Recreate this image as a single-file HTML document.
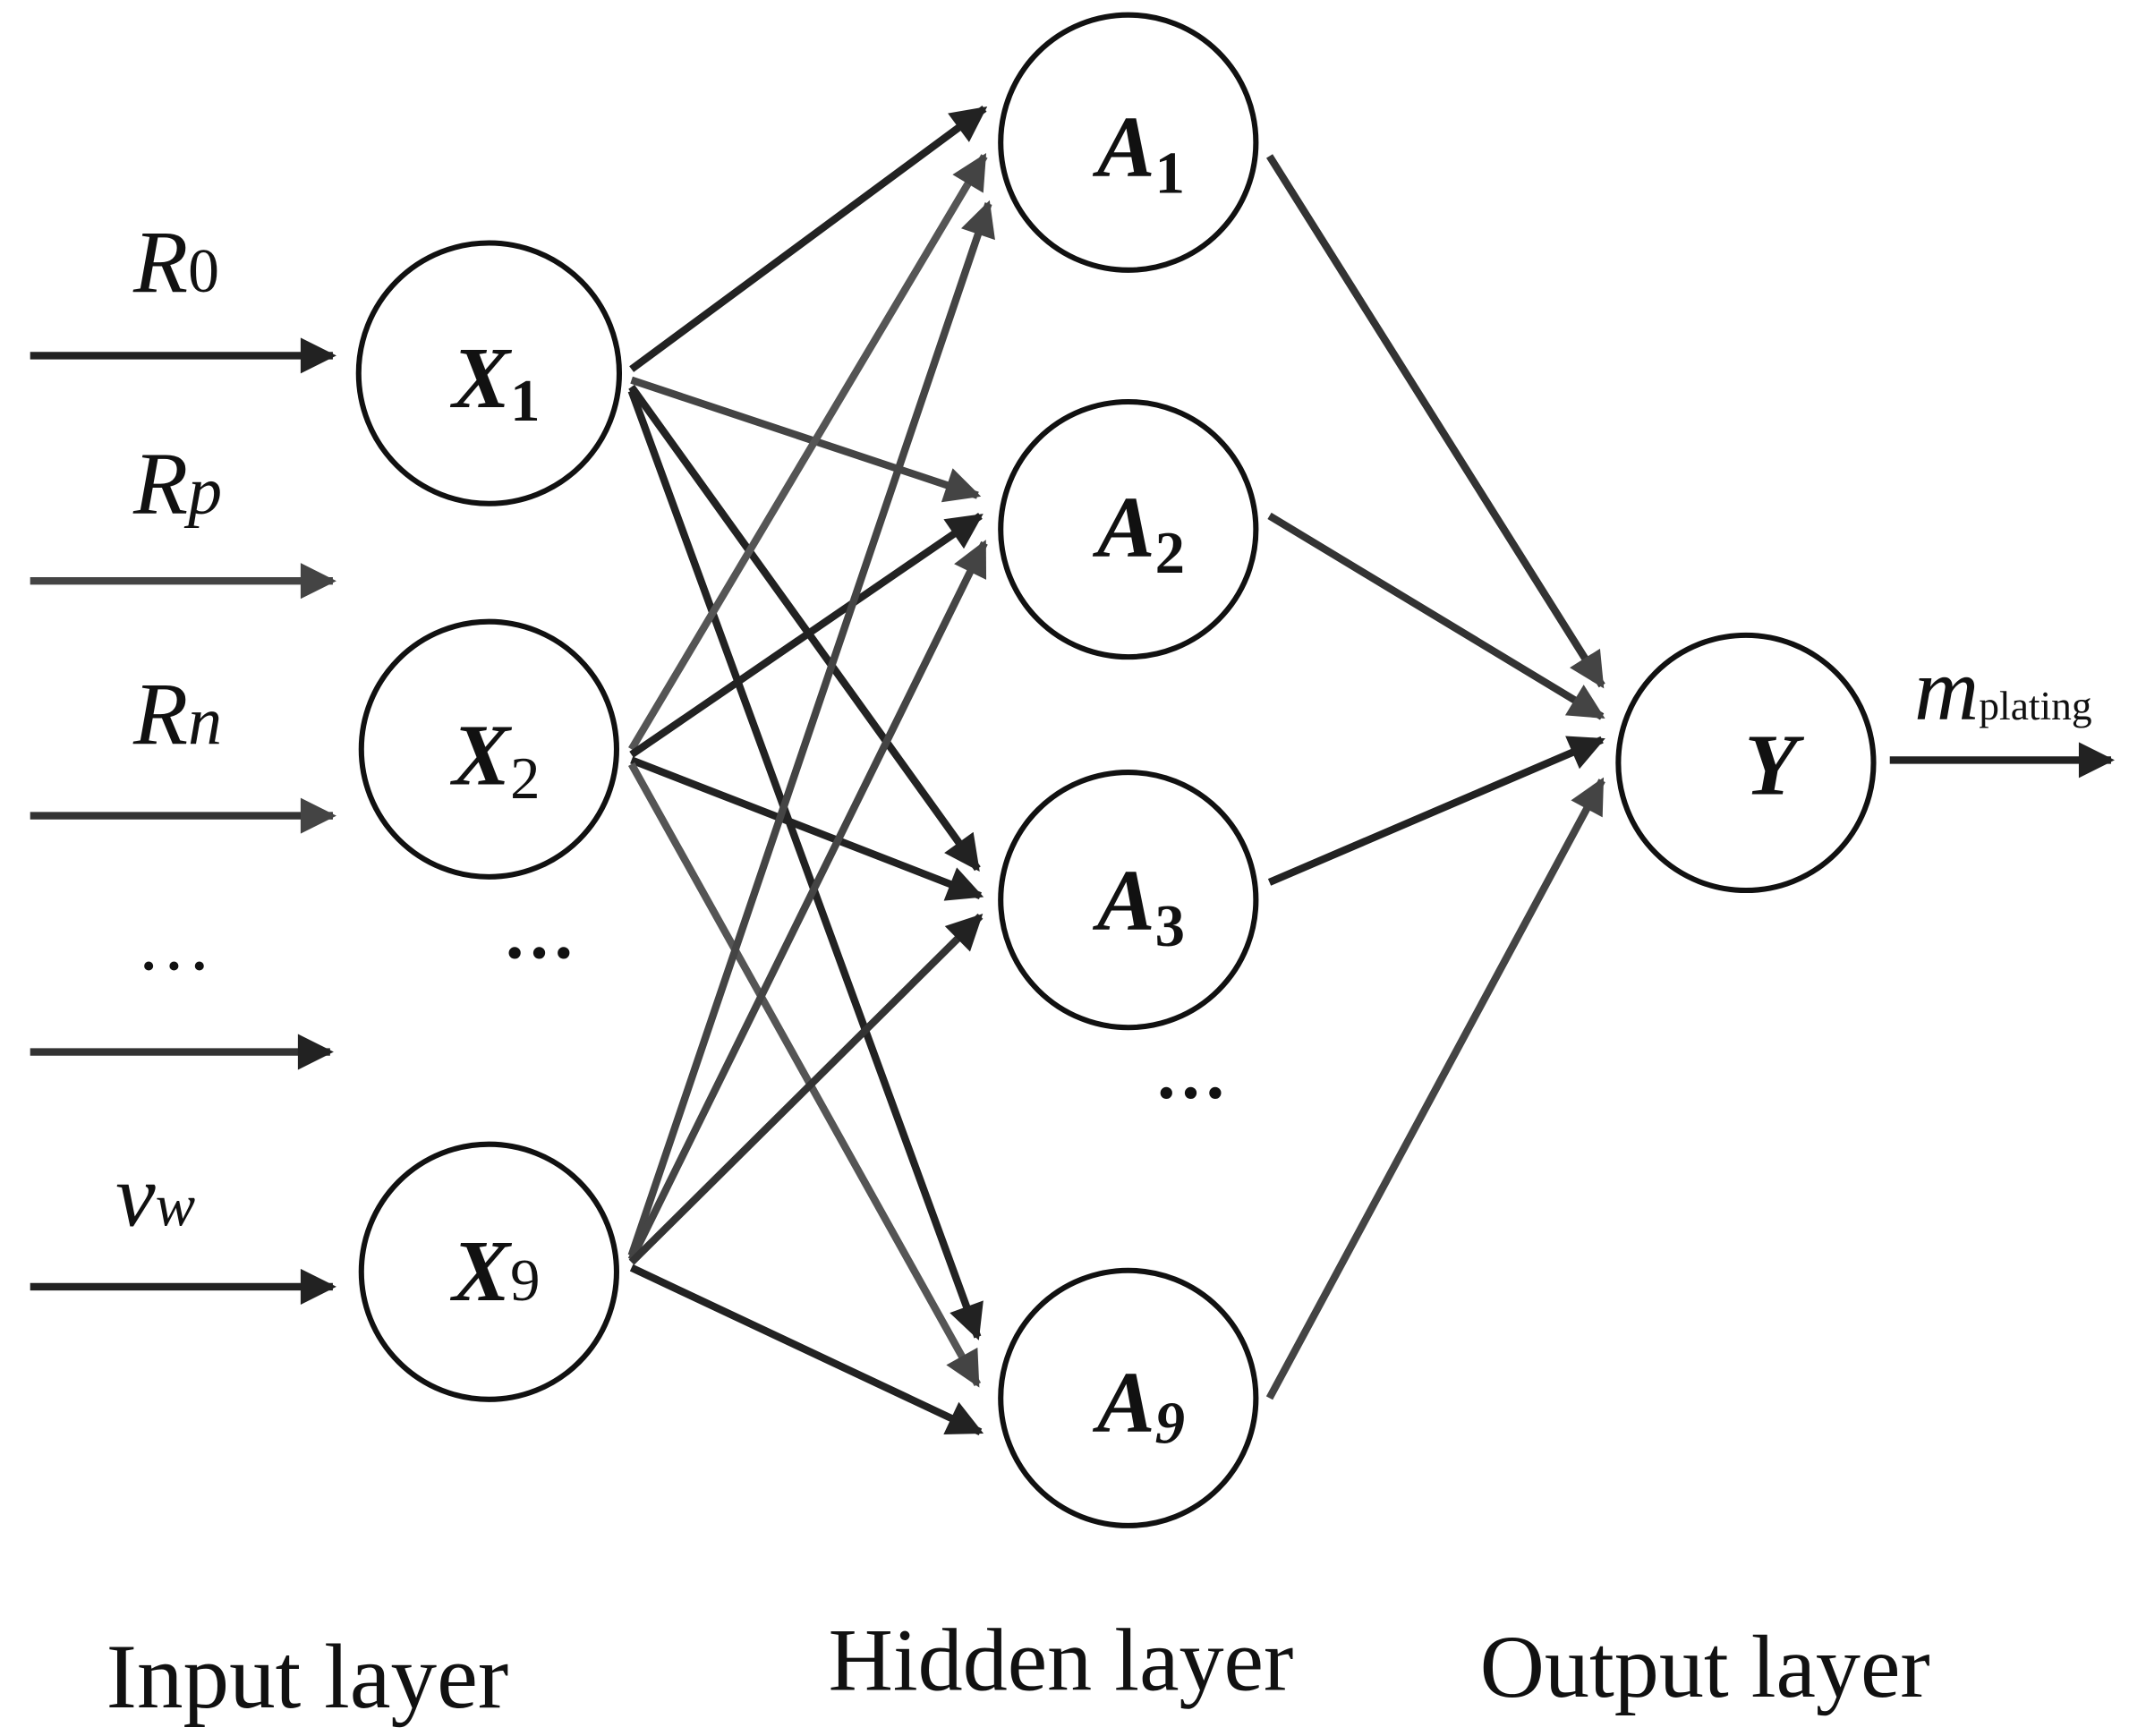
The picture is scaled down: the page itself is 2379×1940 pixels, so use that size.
<!DOCTYPE html>
<html><head><meta charset="utf-8"><style>
html,body{margin:0;padding:0;background:#fff;}
svg{display:block;}
text{font-family:"Liberation Serif",serif;fill:#111;}
</style></head><body>
<svg width="2379" height="1940" viewBox="0 0 1568 1279" xmlns="http://www.w3.org/2000/svg">
<defs>
<marker id="ah" viewBox="0 0 10 10" refX="9" refY="5" markerWidth="5.5" markerHeight="4.8" orient="auto" markerUnits="strokeWidth">
<path d="M0,0 L10,5 L0,10 z" fill="#222"/>
</marker>
<marker id="ah2" viewBox="0 0 10 10" refX="9" refY="5" markerWidth="5.5" markerHeight="4.8" orient="auto" markerUnits="strokeWidth">
<path d="M0,0 L10,5 L0,10 z" fill="#444"/>
</marker>
</defs>
<g stroke-width="5.5" fill="none">
<line x1="22" y1="262" x2="245" y2="262" stroke="#222" marker-end="url(#ah)"/>
<line x1="22" y1="428" x2="245" y2="428" stroke="#444" marker-end="url(#ah2)"/>
<line x1="22" y1="601" x2="245" y2="601" stroke="#333" marker-end="url(#ah2)"/>
<line x1="22" y1="775" x2="243" y2="775" stroke="#333" marker-end="url(#ah)"/>
<line x1="22" y1="948" x2="245" y2="948" stroke="#222" marker-end="url(#ah)"/>
<line x1="465" y1="272" x2="725" y2="80" stroke="#222" marker-end="url(#ah)"/>
<line x1="465" y1="280" x2="720" y2="365" stroke="#444" marker-end="url(#ah2)"/>
<line x1="465" y1="285" x2="720" y2="640" stroke="#222" marker-end="url(#ah)"/>
<line x1="465" y1="288" x2="720" y2="985" stroke="#222" marker-end="url(#ah)"/>
<line x1="465" y1="552" x2="725" y2="115" stroke="#555" marker-end="url(#ah2)"/>
<line x1="465" y1="556" x2="722" y2="380" stroke="#222" marker-end="url(#ah)"/>
<line x1="465" y1="560" x2="722" y2="660" stroke="#222" marker-end="url(#ah)"/>
<line x1="465" y1="563" x2="720" y2="1020" stroke="#555" marker-end="url(#ah2)"/>
<line x1="465" y1="925" x2="728" y2="150" stroke="#444" marker-end="url(#ah2)"/>
<line x1="465" y1="928" x2="725" y2="400" stroke="#444" marker-end="url(#ah2)"/>
<line x1="465" y1="930" x2="722" y2="675" stroke="#333" marker-end="url(#ah)"/>
<line x1="465" y1="934" x2="722" y2="1055" stroke="#222" marker-end="url(#ah)"/>
<line x1="935" y1="115" x2="1180" y2="505" stroke="#333" marker-end="url(#ah2)"/>
<line x1="935" y1="380" x2="1180" y2="528" stroke="#333" marker-end="url(#ah2)"/>
<line x1="935" y1="650" x2="1180" y2="545" stroke="#222" marker-end="url(#ah)"/>
<line x1="935" y1="1030" x2="1180" y2="575" stroke="#444" marker-end="url(#ah2)"/>
<line x1="1392" y1="560" x2="1555" y2="560" stroke="#222" marker-end="url(#ah)"/>
</g>
<g stroke="#111" stroke-width="4" fill="#fff">
<circle cx="360" cy="275" r="96"/>
<circle cx="360" cy="552" r="94"/>
<circle cx="360" cy="937" r="94"/>
<circle cx="831" cy="105" r="94"/>
<circle cx="831" cy="390" r="94"/>
<circle cx="831" cy="663" r="94"/>
<circle cx="831" cy="1030" r="94"/>
<circle cx="1286" cy="562" r="94"/>
</g>
<g font-size="64" font-style="italic" font-weight="bold">
<text x="333" y="300">X<tspan font-size="44" font-style="normal" dy="10">1</tspan></text>
<text x="333" y="578">X<tspan font-size="44" font-style="normal" font-weight="normal" dy="10">2</tspan></text>
<text x="333" y="958">X<tspan font-size="44" font-style="normal" font-weight="normal">9</tspan></text>
<text x="808" y="130">A<tspan font-size="44" font-style="normal" dy="12">1</tspan></text>
<text x="808" y="410">A<tspan font-size="44" font-style="normal" dy="12">2</tspan></text>
<text x="808" y="685">A<tspan font-size="44" font-style="normal" dy="12">3</tspan></text>
<text x="808" y="1055">A<tspan font-size="44" dy="8">9</tspan></text>
<text x="1285" y="585">Y</text>
</g>
<g font-size="66" font-style="italic">
<text x="98" y="215">R<tspan font-style="normal" font-size="46">0</tspan></text>
<text x="98" y="378">R<tspan font-size="50">p</tspan></text>
<text x="98" y="548">R<tspan font-size="50">n</tspan></text>
<text x="85" y="903">v<tspan font-size="44">w</tspan></text>
<text x="1410" y="530">m<tspan font-style="normal" font-size="30">plating</tspan></text>
</g>
<g font-size="54" font-weight="bold">
<text x="370" y="720">···</text>
<text x="850" y="823">···</text>
</g>
<text x="100" y="730" font-size="56">···</text>
<text x="78" y="1258" font-size="68">Input layer</text>
<text x="610" y="1245" font-size="66">Hidden layer</text>
<text x="1090" y="1250" font-size="66">Output layer</text>
</svg>
</body></html>
